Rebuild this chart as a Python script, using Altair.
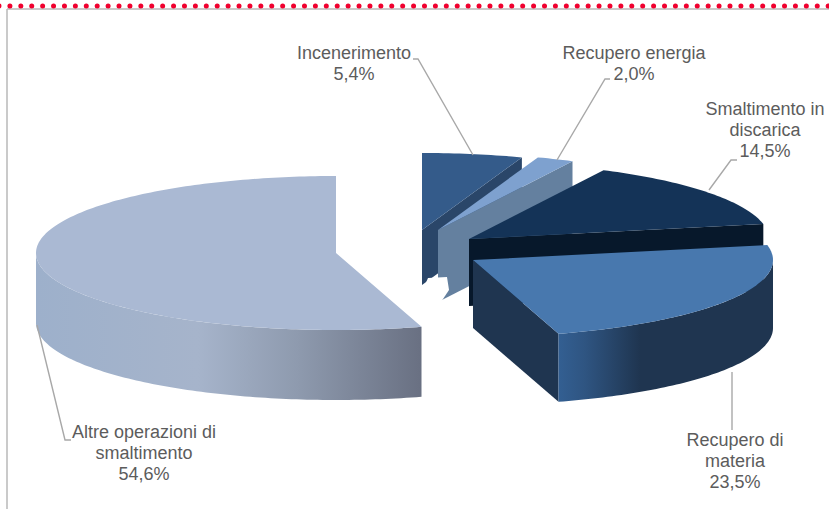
import numpy as np
import pandas as pd
import altair as alt

# Waste treatment shares, clockwise from twelve o'clock
categories = ["Incenerimento", "Recupero energia", "Smaltimento in discarica",
              "Recupero di materia", "Altre operazioni di smaltimento"]
shares = [5.4, 2.0, 14.5, 23.5, 54.6]
label_lines = [["Incenerimento", "5,4%"],
               ["Recupero energia", "2,0%"],
               ["Smaltimento in", "discarica", "14,5%"],
               ["Recupero di", "materia", "23,5%"],
               ["Altre operazioni di", "smaltimento", "54,6%"]]

# Exploded pie geometry on the canvas
W, H = 829, 509
RX, RY = 300, 77
apex = [(422, 230), (438, 230), (469, 239), (473, 260), (336, 253)]
depth = [55, 72, 67, 68, 70]

top_fill = ["#345b8a", "#7ea1cf", "#143357", "#4878ae", "#aab9d3"]
face_fill = ["#2a4669", "#64809f", "#07182b", "#1f3550", None]
rim_stops = {
    3: [("#335f92", 0), ("#2f5582", 0.12), ("#1f3550", 0.38), ("#1f3550", 1)],
    4: [("#9db0cb", 0), ("#a6b4cb", 0.42), ("#8e9aae", 0.68), ("#697082", 1)],
}
# Small gap torn out of the lower walls of the two thin slices
wall_gap = [(424, 287), (428, 278), (447, 277), (449, 290), (441, 302), (437, 304), (424, 304)]

# Text anchor of each label's first line, and its leader line
label_anchor = [(354, 54), (634, 54), (765, 110), (735, 441), (144, 433)]
LINE_STEP = 21
leaders = [[(413, 59), (418, 59), (473, 155)],
           [(610, 79), (605, 79), (557, 160)],
           [(737, 160), (731, 160), (709, 190)],
           [(732, 372), (732, 430)],
           [(37, 325), (65, 440), (71, 440)]]


def rim_point(i, deg):
    """Point on the upper rim of slice i at a clockwise angle from the top."""
    t = np.radians(deg)
    return (apex[i][0] + RX * np.sin(t), apex[i][1] - RY * np.cos(t))


def arc(i, a0, a1):
    n = max(int(abs(a1 - a0)), 2)
    return [rim_point(i, d) for d in np.linspace(a0, a1, n + 1)]


def polygon(points):
    ring = [[float(x), float(y)] for x, y in points]
    ring.append(ring[0])
    return {"type": "Feature", "properties": {},
            "geometry": {"type": "Polygon", "coordinates": [ring]}}


def shape(points, fill):
    return alt.Chart(alt.Data(values=[polygon(points)])).mark_geoshape(
        fill=fill, stroke=None).project(type="identity", scale=1, translate=[0, 0])


edges = np.cumsum([0] + shares) * 3.6
layers = []

for i in range(len(shares)):
    a0, a1 = edges[i], edges[i + 1]
    d = depth[i]
    # Radial face along the closing edge of the slice
    if face_fill[i]:
        end = rim_point(i, a1)
        layers.append(shape([apex[i], end, (end[0], end[1] + d),
                             (apex[i][0], apex[i][1] + d)], face_fill[i]))
    if i == 1:
        layers.append(shape(wall_gap, "white"))
    # Curved outer wall, only on the half facing the viewer
    lo, hi = max(a0, 90), min(a1, 270)
    if i in rim_stops and hi > lo:
        upper = arc(i, lo, hi)
        lower = [(x, y + d) for x, y in reversed(upper)]
        gradient = alt.Gradient(
            gradient="linear", x1=0, x2=1, y1=0, y2=0,
            stops=[alt.GradientStop(color=c, offset=o) for c, o in rim_stops[i]])
        layers.append(shape(upper + lower, gradient))
    # Top surface
    layers.append(shape([apex[i]] + arc(i, a0, a1), top_fill[i]))

# Leader lines
leader_rows = [{"leader": categories[k], "step": s, "x": p[0], "y": p[1]}
               for k, path in enumerate(leaders) for s, p in enumerate(path)]
x_scale = alt.Scale(domain=[0, W], range=[0, W], nice=False, zero=False)
y_scale = alt.Scale(domain=[0, H], range=[0, H], nice=False, zero=False)
px = alt.X("x:Q", scale=x_scale, axis=None)
py = alt.Y("y:Q", scale=y_scale, axis=None)

layers.append(alt.Chart(pd.DataFrame(leader_rows)).mark_line(
    color="#a8a8a8", strokeWidth=1.4).encode(
        x=px, y=py, detail="leader:N", order="step:Q"))

# Frame: grey rules under a dotted red band
frame_h = pd.DataFrame({"x": [7], "x2": [W], "y": [9]})
frame_v = pd.DataFrame({"x": [7], "y": [9], "y2": [H]})
layers.append(alt.Chart(frame_h).mark_rule(color="#b9b9b9", strokeWidth=1.5).encode(
    x=px, x2="x2:Q", y=py))
layers.append(alt.Chart(frame_v).mark_rule(color="#b9b9b9", strokeWidth=1.5).encode(
    x=px, y=py, y2="y2:Q"))
dots = pd.DataFrame({"x": [-1], "x2": [W], "y": [6]})
layers.append(alt.Chart(dots).mark_rule(
    color="#f0002e", strokeWidth=5, strokeCap="round", strokeDash=[0.01, 10.9]).encode(
        x=px, x2="x2:Q", y=py))

# Labels, one text row per line
text_rows = [{"text": line, "x": label_anchor[k][0],
              "y": label_anchor[k][1] + n * LINE_STEP}
             for k, lines in enumerate(label_lines) for n, line in enumerate(lines)]
layers.append(alt.Chart(pd.DataFrame(text_rows)).mark_text(
    font="Liberation Sans", fontSize=18, color="#5c5c5c",
    align="center", baseline="middle").encode(x=px, y=py, text="text:N"))

chart = alt.layer(*layers).properties(
    width=W, height=H, padding=0, background="white",
    autosize=alt.AutoSizeParams(type="none")
).configure_view(stroke=None)

chart.save("out.html", embed_options={"renderer": "svg", "actions": False})
